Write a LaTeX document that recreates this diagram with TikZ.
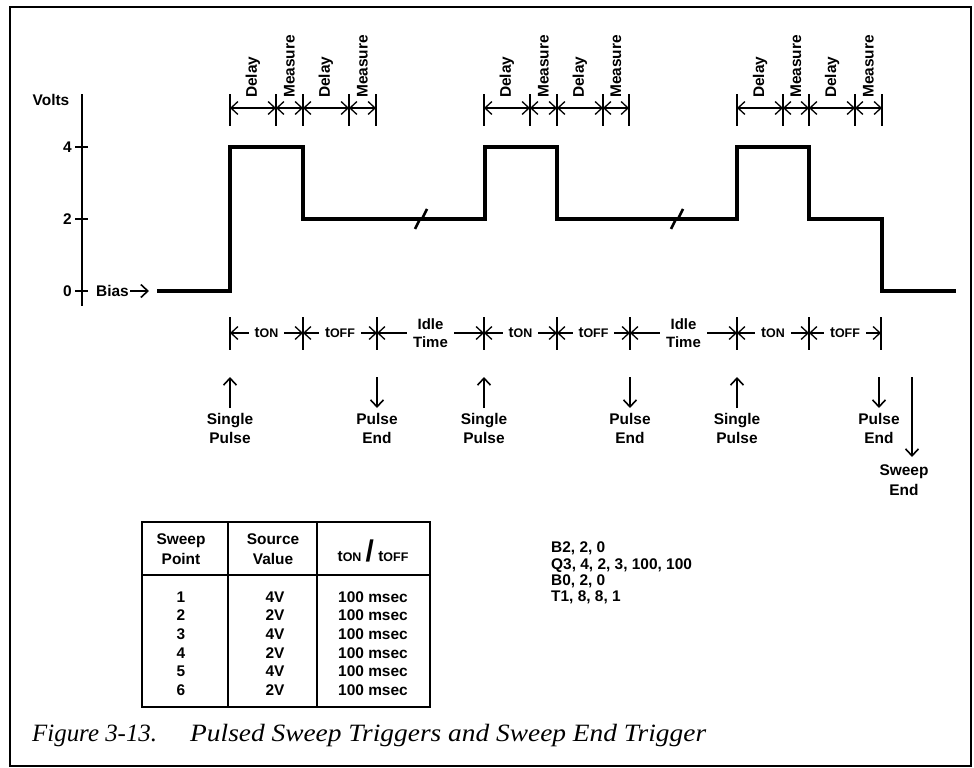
\documentclass[tikz,border=0pt]{standalone}
\usepackage{fontspec}
\setmainfont{Liberation Sans}
\newfontfamily\capfont{Liberation Serif}
\newfontfamily\titlefont[FakeStretch=1.1]{Liberation Serif}
\usetikzlibrary{arrows.meta,positioning}
\newcommand{\lblfont}{\fontsize{15.5}{19.5}\selectfont\bfseries}
\newcommand{\smfont}{\fontsize{15}{17.5}\selectfont\bfseries}
\newcommand{\codefont}{\fontsize{15.5}{16.2}\selectfont\bfseries}
\newcommand{\tsub}[1]{t{\fontsize{12.5}{12}\selectfont #1}}
\tikzstyle{lbl} = [font=\lblfont, align=center, inner sep=1bp]
\tikzstyle{vlbl} = [font=\lblfont, rotate=90, anchor=west, inner sep=0bp]
\tikzstyle{gap} = [font=\smfont, align=center, fill=white, inner xsep=6bp, inner ysep=2bp]
\tikzstyle{dimtick} = [line width=2bp]
\tikzstyle{dim} = [line width=1.3bp, <->]
\tikzstyle{trig} = [line width=1.6bp, ->]
\tikzstyle{signal} = [line width=3.2bp, line join=miter]
\tikzstyle{tabline} = [line width=2bp]

\begin{document}
\begin{tikzpicture}[x=1bp, y=-1bp, >={Straight Barb[length=7bp,width=13bp]}]
  \useasboundingbox (0,0) rectangle (974,768);
  \draw[line width=2.5bp] (10,7) rectangle (971,766);
  % voltage axis
  \draw[line width=2bp] (82,94) -- (82,306);
  \foreach \v/\y in {4/147,2/219,0/291}{
    \draw[line width=2bp] (75,\y) -- (88,\y);
    \node[lbl, anchor=east] (v\v) at (73,\y) {\v};
  }
  \node[lbl] (volts) at (51,100) {Volts};
  \node[lbl, anchor=west] (bias) at (95,291) {Bias};
  \coordinate (biastip) at (149,291);
  \draw[trig] (bias.east) -- (biastip);
  % pulse train
  \draw[signal] (157,291) -- (230,291) -- (230,147) -- (303,147) -- (303,219)
    -- (485,219) -- (485,147) -- (557,147) -- (557,219) -- (737,219) -- (737,147)
    -- (809,147) -- (809,219) -- (882,219) -- (882,291) -- (956,291);
  \foreach \bx in {421,677}
    \draw[line width=2.6bp] (\bx-6,229) -- (\bx-1,219) -- (\bx+1,219) -- (\bx+6,209);
  % delay / measure
  \foreach \a/\b/\c/\d/\e [count=\p] in {230/276/303/349/376,484/530/557/603/629,737/783/809/855/882}{
    \foreach \x [count=\k] in {\a,\b,\c,\d,\e}{
      \coordinate (m\p\k) at (\x,108);
      \draw[dimtick] (\x,94) -- (\x,126);
    }
    \draw[dim] (m\p1) -- (m\p2);
    \draw[dim] (m\p2) -- (m\p3);
    \draw[dim] (m\p3) -- (m\p4);
    \draw[dim] (m\p4) -- (m\p5);
    \node[vlbl] (dlya\p) at ({(\a+\b)/2},98) {Delay};
    \node[vlbl] (msra\p) at ({(\b+\c)/2},98) {Measure};
    \node[vlbl] (dlyb\p) at ({(\c+\d)/2},98) {Delay};
    \node[vlbl] (msrb\p) at ({(\d+\e)/2},98) {Measure};
  }
  % ton / toff / idle time
  \foreach \x [count=\i] in {230,303,377,484,557,630,737,809,881}{
    \coordinate (b\i) at (\x,333);
    \draw[dimtick] (\x,317) -- (\x,350);
  }
  \foreach \i/\j/\txt in {1/2/{\tsub{ON}},2/3/{\tsub{OFF}},3/4/{Idle\\Time},4/5/{\tsub{ON}},
      5/6/{\tsub{OFF}},6/7/{Idle\\Time},7/8/{\tsub{ON}},8/9/{\tsub{OFF}}}
    \draw[dim] (b\i) -- node[gap] (seg\i) {\txt} (b\j);
  % triggers
  \foreach \x [count=\i] in {230,484,737}{
    \coordinate (spt\i) at (\x,377);
    \node[lbl, anchor=north] (sp\i) at (\x,412) {Single\\Pulse};
    \draw[trig, shorten <=4bp] (sp\i.north) -- (spt\i);
  }
  \foreach \x [count=\i] in {377,630,879}{
    \coordinate (pet\i) at (\x,377);
    \node[lbl, anchor=north] (pe\i) at (\x,412) {Pulse\\End};
    \draw[trig, shorten >=4bp] (pet\i) -- (pe\i.north);
  }
  \coordinate (swt) at (912,377);
  \node[lbl, anchor=north] (se) at (904,464) {Sweep\\End};
  \draw[trig, shorten >=7bp] (swt) -- (swt |- se.north);
  % table
  \draw[tabline] (142,522) rectangle (430,707);
  \draw[tabline] (142,575) -- (430,575);
  \draw[tabline] (228,522) -- (228,707);
  \draw[tabline] (317,522) -- (317,707);
  \node[lbl] (hpt) at (181,549) {Sweep\\Point};
  \node[lbl] (hsv) at (273,549) {Source\\Value};
  \node[lbl] (htm) at (373,551) {\tsub{ON} {\fontsize{30}{30}\selectfont/} \tsub{OFF}};
  \foreach \n/\v [count=\i from 0] in {1/4V,2/2V,3/4V,4/2V,5/4V,6/2V}{
    \node[lbl] (pt\n) at (181,{597+18.6*\i}) {\n};
    \node[lbl] (sv\n) at (275,{597+18.6*\i}) {\v};
    \node[lbl] (tm\n) at (373,{597+18.6*\i}) {100 msec};
  }
  % commands
  \node[lbl, font=\codefont, align=left, anchor=north west] (cmd) at (550,541)
    {B2, 2, 0\\Q3, 4, 2, 3, 100, 100\\B0, 2, 0\\T1, 8, 8, 1};
  % caption
  \node[font={\capfont\itshape\fontsize{25}{28}\selectfont}, anchor=base west, inner sep=0bp] (fig) at (32,741) {Figure 3-13.};
  \node[font={\titlefont\itshape\fontsize{25}{28}\selectfont}, anchor=base west, inner sep=0bp] (title) at (190,741) {Pulsed Sweep Triggers and Sweep End Trigger};
\end{tikzpicture}
\end{document}
